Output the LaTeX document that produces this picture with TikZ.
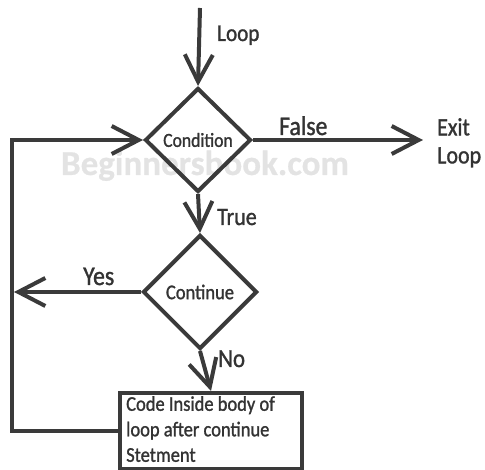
\documentclass[tikz,border=0pt]{standalone}
\usepackage{fontspec}
\setmainfont{Carlito}[FakeStretch=0.88,FakeBold=1.2]
\newfontfamily\wmfont{Carlito}[FakeBold=0.6]
\usetikzlibrary{arrows.meta,shapes.geometric}
\definecolor{ln}{HTML}{3A3A3A}
\definecolor{tx}{HTML}{333333}
\definecolor{wm}{HTML}{E3E3E3}
\newcommand{\fs}[2]{\fontsize{#1}{#2}\selectfont}
\begin{document}
\begin{tikzpicture}[x=1pt,y=1pt,
  flow/.style={draw=ln,line width=4pt,line join=miter},
  arr/.style={flow,-{Straight Barb[length=27pt,width=28pt]}},
  decis/.style={diamond,draw=ln,line width=4pt,inner sep=0pt,text=tx},
  lbl/.style={anchor=base west,inner sep=0pt,text=tx}]
\useasboundingbox (0,0) rectangle (485,-470);
\node[inner sep=0pt,text=wm,font=\wmfont\bfseries\fs{35}{40},anchor=base] (wmark) at (205,-175) {Beginnersbook.com};
\node[decis,minimum width=106pt,minimum height=104pt,font=\fs{20}{24}] (cond) at (198,-140) {Condition};
\node[decis,minimum width=114pt,minimum height=114pt,font=\fs{21}{24}] (cont) at (200,-292) {Continue};
\node[draw=ln,line width=4pt,minimum width=182pt,minimum height=76pt,inner sep=0pt] (box) at (211,-431) {};
\node[anchor=north west,align=left,inner sep=0pt,text=tx,font=\fs{21}{25.5}] (boxtxt) at ([xshift=8pt,yshift=-5pt]box.north west) {Code Inside body of\\loop after continue\\Stetment};
\coordinate (start) at (200,-8);
\coordinate (exit) at (423,-140);
\coordinate (lx) at (12,-300);
\coordinate (yesend) at (14,-292);
\draw[arr] (start) -- (cond.north);
\draw[arr] (cond.east) -- (exit);
\draw[arr] (cond.south) -- (cont.north);
\draw[arr] (cont.west) -- (yesend);
\draw[arr] (cont.south) -- (box.north);
\draw[arr] (box.west) -- (lx |- box.west) -- (lx |- cond.west) -- (cond.west);
\node[lbl,font=\fs{24}{28}] (lloop) at (217,-41) {Loop};
\node[lbl,font=\fs{27}{30}] (lfalse) at (279,-135) {False};
\node[lbl,font=\fs{25}{28},align=left,anchor=north west] (lexit) at (437,-118) {Exit\\Loop};
\node[lbl,font=\fs{25}{28}] (ltrue) at (217,-225) {True};
\node[lbl,font=\fs{27}{30}] (lyes) at (83,-285) {Yes};
\node[lbl,font=\fs{26}{30}] (lno) at (218,-367) {No};
\end{tikzpicture}
\end{document}
